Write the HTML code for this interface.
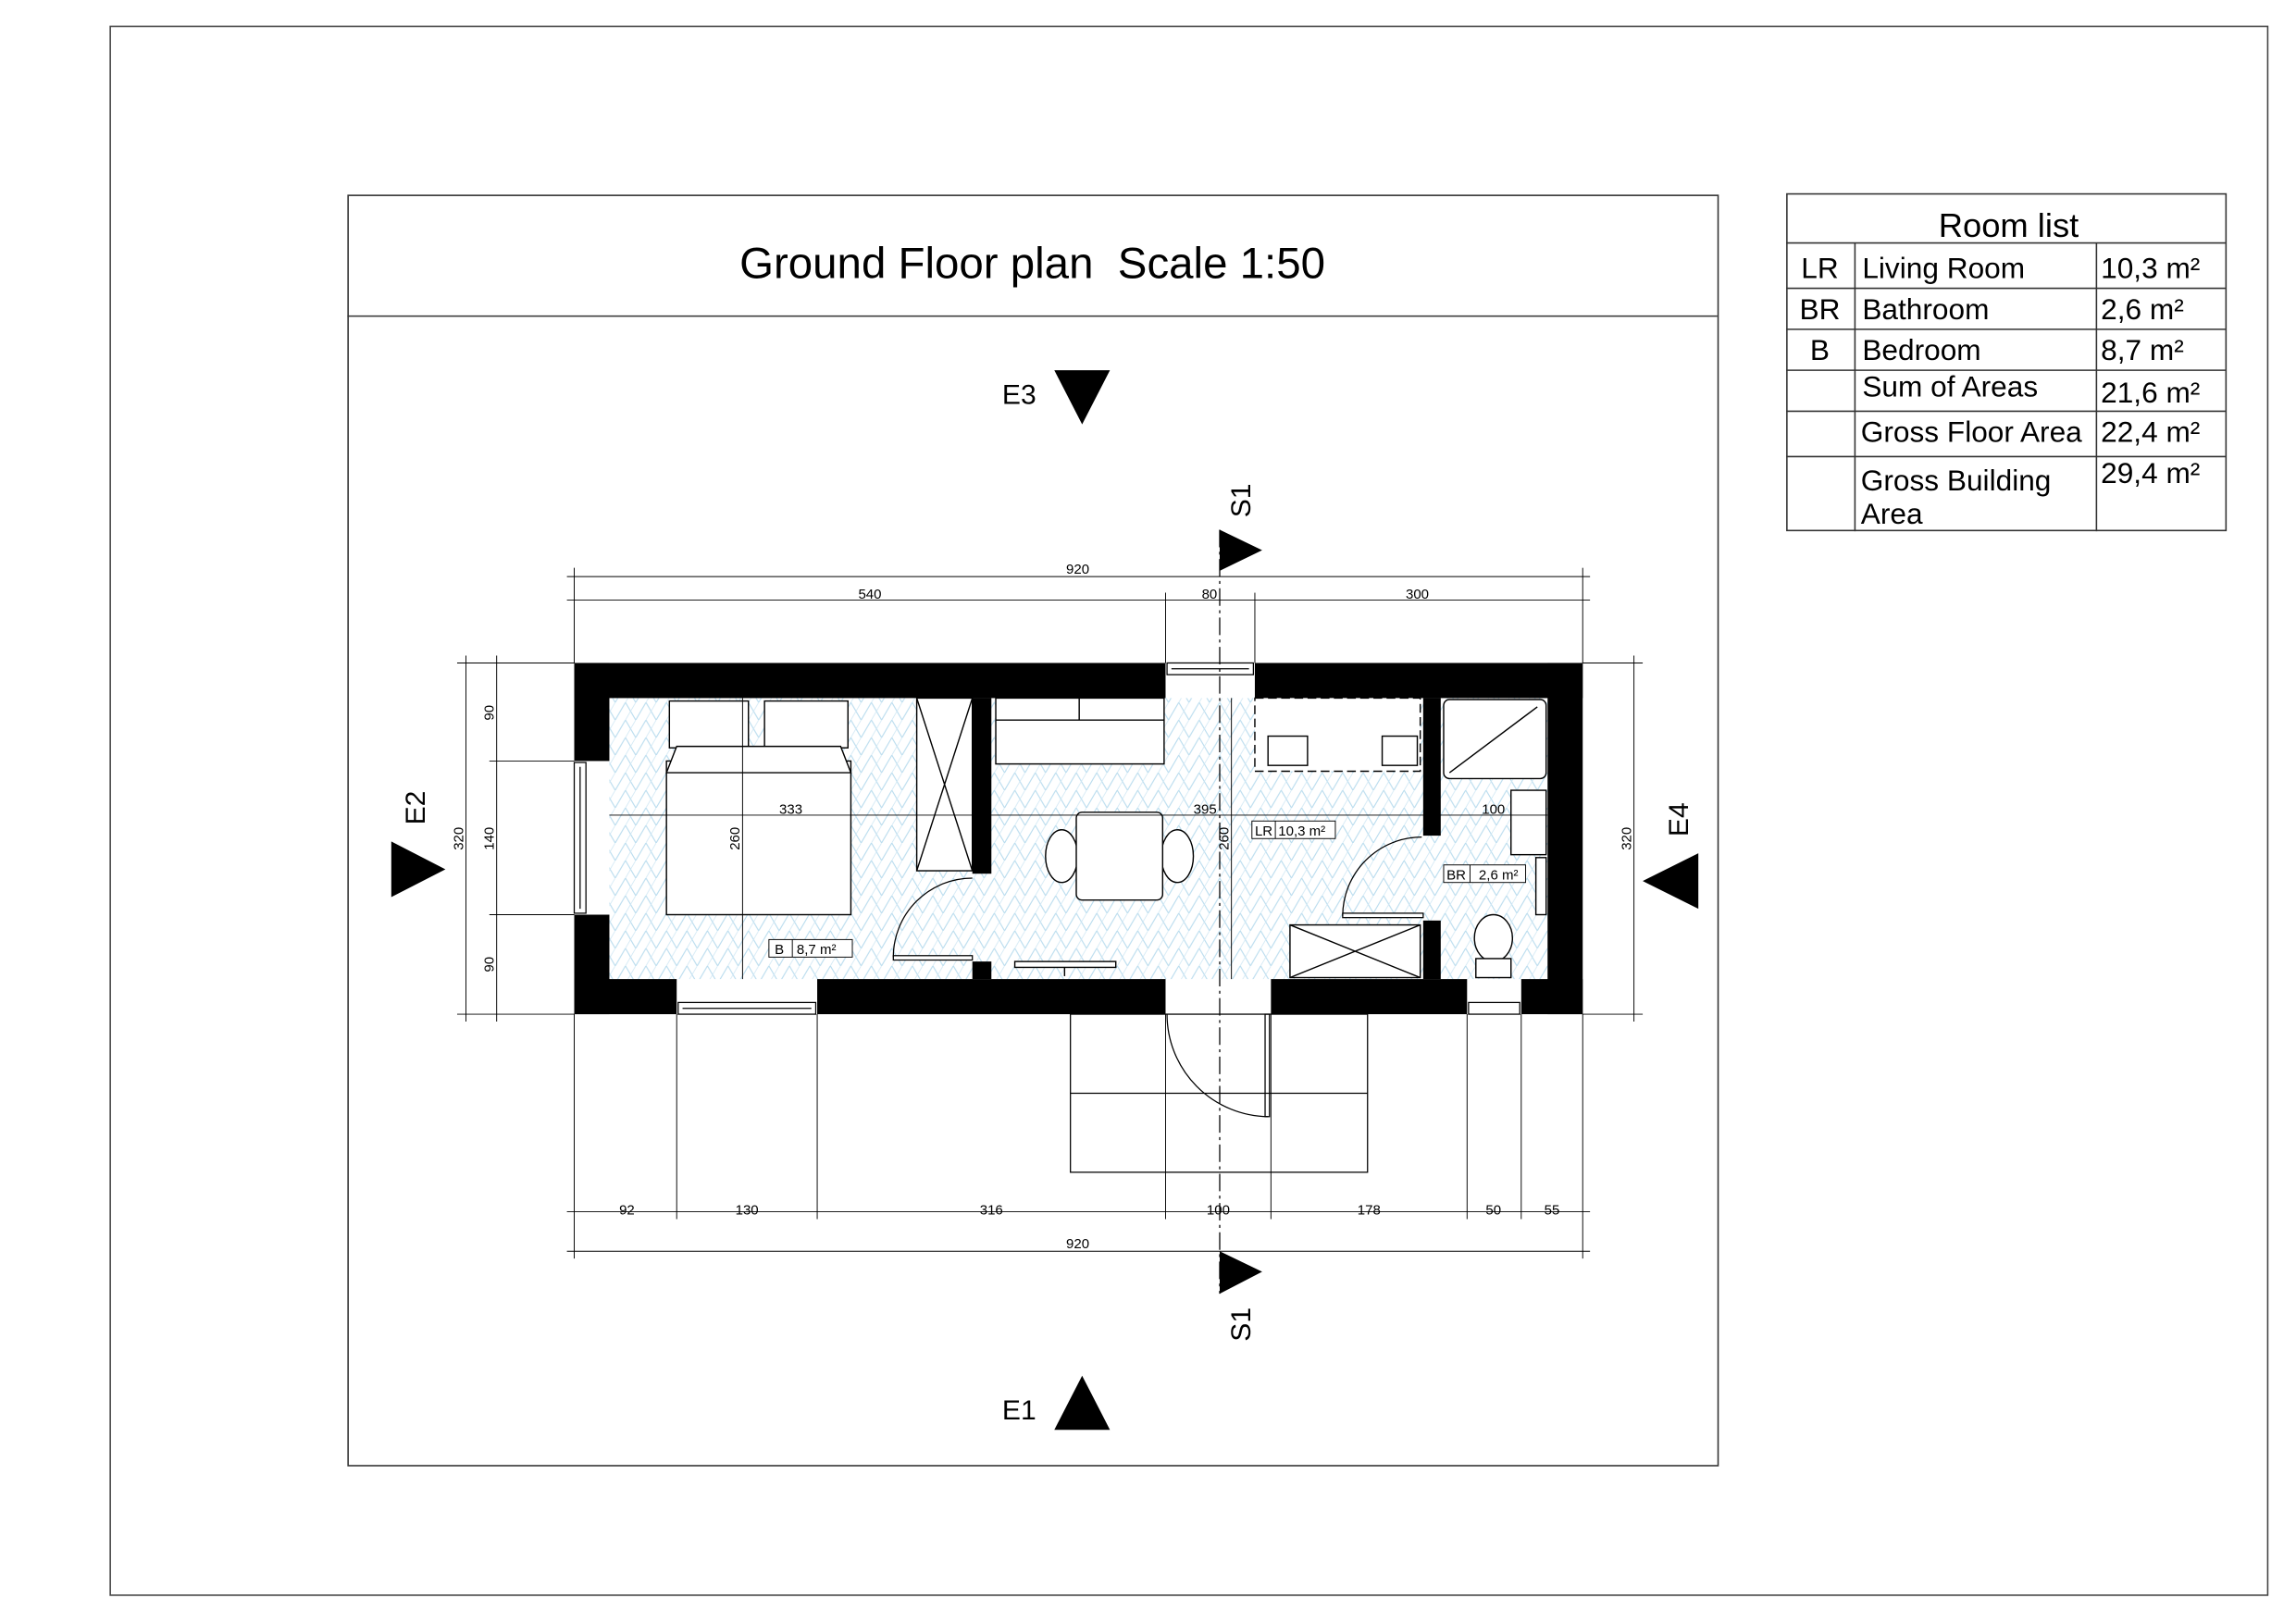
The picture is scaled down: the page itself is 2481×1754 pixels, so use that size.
<!DOCTYPE html>
<html><head><meta charset="utf-8"><style>
html,body{margin:0;padding:0;background:#fff}
svg{display:block}
text{font-family:"Liberation Sans",sans-serif;fill:#000}
.d{font-size:9.5px}
.t{font-size:20px}
</style></head><body>
<svg width="2481" height="1754" viewBox="0 0 1568 1109" xmlns="http://www.w3.org/2000/svg">
<defs>
<pattern id="hb" width="14" height="12" patternUnits="userSpaceOnUse">
<path d="M0 12 L7 0 L14 12" fill="none" stroke="#b9dcee" stroke-width="0.7"/>
<path d="M7 12 L14 0" fill="none" stroke="#cfe7f4" stroke-width="0.5"/>
</pattern>
</defs>
<rect x="0" y="0" width="1568" height="1109" fill="#fff"/>
<rect x="75" y="18" width="1474" height="1072" fill="none" stroke="#444" stroke-width="1"/>
<rect x="237.5" y="133.5" width="936" height="868" fill="none" stroke="#333" stroke-width="1"/>
<line x1="237" y1="216" x2="1173" y2="216" stroke="#333" stroke-width="1"/>
<text x="705" y="190" font-size="30" text-anchor="middle" xml:space="preserve">Ground Floor plan&#160; Scale 1:50</text>

<!-- Room list -->
<g stroke="#333" stroke-width="1" fill="none">
<rect x="1220.5" y="132.5" width="300" height="230"/>
<line x1="1220" y1="166" x2="1520" y2="166"/>
<line x1="1220" y1="197" x2="1520" y2="197"/>
<line x1="1220" y1="225" x2="1520" y2="225"/>
<line x1="1220" y1="253" x2="1520" y2="253"/>
<line x1="1220" y1="281" x2="1520" y2="281"/>
<line x1="1220" y1="312" x2="1520" y2="312"/>
<line x1="1267" y1="166" x2="1267" y2="363"/>
<line x1="1432" y1="166" x2="1432" y2="363"/>
</g>
<text x="1372" y="162" text-anchor="middle" style="font-size:23px">Room list</text>
<text x="1243" y="190" class="t" text-anchor="middle">LR</text>
<text x="1272" y="190" class="t">Living Room</text>
<text x="1435" y="190" class="t">10,3 m²</text>
<text x="1243" y="218" class="t" text-anchor="middle">BR</text>
<text x="1272" y="218" class="t">Bathroom</text>
<text x="1435" y="218" class="t">2,6 m²</text>
<text x="1243" y="246" class="t" text-anchor="middle">B</text>
<text x="1272" y="246" class="t">Bedroom</text>
<text x="1435" y="246" class="t">8,7 m²</text>
<text x="1272" y="271" class="t">Sum of Areas</text>
<text x="1435" y="275" class="t">21,6 m²</text>
<text x="1271" y="302" class="t">Gross Floor Area</text>
<text x="1435" y="302" class="t">22,4 m²</text>
<text x="1271" y="335" class="t">Gross Building</text>
<text x="1271" y="358" class="t">Area</text>
<text x="1435" y="330" class="t">29,4 m²</text>

<!-- floors -->
<rect x="416" y="477" width="641" height="192" fill="url(#hb)"/>

<!-- walls -->
<g fill="#000">
<rect x="392" y="453" width="404" height="24"/>
<rect x="857" y="453" width="224" height="24"/>
<rect x="392" y="669" width="70" height="24"/>
<rect x="558" y="669" width="238" height="24"/>
<rect x="868" y="669" width="134" height="24"/>
<rect x="1039" y="669" width="42" height="24"/>
<rect x="392" y="453" width="24" height="67"/>
<rect x="392" y="625" width="24" height="68"/>
<rect x="1057" y="453" width="24" height="240"/>
<rect x="664" y="477" width="13" height="120"/>
<rect x="664" y="657" width="13" height="12"/>
<rect x="972" y="477" width="12" height="94"/>
<rect x="972" y="629" width="12" height="40"/>
</g>
<!-- windows -->
<g fill="none" stroke="#000" stroke-width="0.8">
<rect x="797" y="453" width="59" height="8"/><line x1="800" y1="457" x2="853" y2="457"/>
<rect x="463" y="685" width="94" height="8"/><line x1="466" y1="689" x2="554" y2="689"/>
<rect x="1003" y="685" width="35" height="8"/>
<rect x="392" y="521" width="8" height="103"/><line x1="396" y1="524" x2="396" y2="621"/>
</g>

<!-- section line -->
<line x1="833" y1="362" x2="833" y2="884" stroke="#000" stroke-width="0.8" stroke-dasharray="12,3,2,3"/>

<g fill="#fff" stroke="#000" stroke-width="0.9">
<rect x="457" y="479" width="54" height="32"/>
<rect x="522" y="479" width="57" height="32"/>
<rect x="455" y="520" width="126" height="105"/>
<path d="M455 528 L462 510 L574 510 L581 528 Z"/>
<rect x="626" y="477" width="38" height="118"/>
<path d="M626 477 L664 595 M664 477 L626 595" fill="none"/>
<rect x="680" y="477" width="115" height="45"/>
<line x1="737" y1="477" x2="737" y2="492"/><line x1="680" y1="492" x2="795" y2="492"/>
<ellipse cx="725" cy="585" rx="11" ry="18"/>
<ellipse cx="804" cy="585" rx="11" ry="18"/>
<rect x="735" y="555" width="59" height="60" rx="4"/>
<rect x="693" y="657" width="69" height="4"/>
<line x1="727" y1="661" x2="727" y2="667"/>
<rect x="857" y="477" width="113" height="50" stroke-dasharray="6,3"/>
<rect x="866" y="503" width="27" height="20"/>
<rect x="944" y="503" width="24" height="20"/>
<rect x="881" y="632" width="89" height="36"/>
<path d="M881 632 L970 668 M970 632 L881 668" fill="none"/>
<rect x="986" y="478" width="70" height="54" rx="4"/>
<line x1="990" y1="528" x2="1050" y2="483"/>
<rect x="1032" y="540" width="24" height="44"/>
<ellipse cx="1020" cy="641" rx="13" ry="16"/>
<rect x="1008" y="655" width="24" height="13"/>
<rect x="1049" y="586" width="7" height="39"/>
</g>
<g fill="none" stroke="#000" stroke-width="0.8">
<rect x="610" y="653" width="54" height="3" fill="#fff"/>
<path d="M610 654 A54 54 0 0 1 664 600"/>
<rect x="917" y="624" width="55" height="3" fill="#fff"/>
<path d="M917 626 A54 54 0 0 1 971 572"/>
<rect x="864" y="693" width="3" height="70" fill="#fff"/>
<path d="M797 693 A70 70 0 0 0 866 763"/>
<rect x="731" y="693" width="203" height="108"/>
<line x1="731" y1="747" x2="934" y2="747"/>
</g>

<g fill="#fff" stroke="#000" stroke-width="0.6">
<rect x="525" y="642" width="57" height="12"/>
<rect x="855" y="561" width="57" height="12"/>
<rect x="986" y="591" width="56" height="12"/>
</g>
<text x="529" y="652" class="d">B</text><line x1="541" y1="642" x2="541" y2="654" stroke="#000" stroke-width="0.6"/>
<text x="544" y="652" class="d">8,7 m²</text>
<text x="857" y="571" class="d">LR</text><line x1="871" y1="561" x2="871" y2="573" stroke="#000" stroke-width="0.6"/>
<text x="873" y="571" class="d">10,3 m²</text>
<text x="988" y="601" class="d">BR</text><line x1="1004" y1="591" x2="1004" y2="603" stroke="#000" stroke-width="0.6"/>
<text x="1010" y="601" class="d">2,6 m²</text>

<g stroke="#000" stroke-width="0.6" fill="none">
<line x1="387" y1="394" x2="1086" y2="394"/>
<line x1="387" y1="410" x2="1086" y2="410"/>
<line x1="392" y1="388" x2="392" y2="453"/><line x1="1081" y1="388" x2="1081" y2="453"/>
<line x1="796" y1="405" x2="796" y2="453"/><line x1="857" y1="405" x2="857" y2="453"/>
<line x1="416" y1="557" x2="1057" y2="557"/>
<line x1="507" y1="477" x2="507" y2="669"/>
<line x1="841" y1="477" x2="841" y2="669"/>
<line x1="318" y1="448" x2="318" y2="698"/>
<line x1="339" y1="448" x2="339" y2="698"/>
<line x1="312" y1="453" x2="392" y2="453"/><line x1="312" y1="693" x2="392" y2="693"/>
<line x1="334" y1="520" x2="392" y2="520"/><line x1="334" y1="625" x2="392" y2="625"/>
<line x1="1116" y1="448" x2="1116" y2="698"/>
<line x1="1081" y1="453" x2="1122" y2="453"/><line x1="1081" y1="693" x2="1122" y2="693"/>
<line x1="387" y1="828" x2="1086" y2="828"/>
<line x1="387" y1="855" x2="1086" y2="855"/>
<line x1="392" y1="693" x2="392" y2="860"/><line x1="462" y1="693" x2="462" y2="833"/>
<line x1="558" y1="693" x2="558" y2="833"/><line x1="796" y1="693" x2="796" y2="833"/>
<line x1="868" y1="693" x2="868" y2="833"/><line x1="1002" y1="693" x2="1002" y2="833"/>
<line x1="1039" y1="693" x2="1039" y2="833"/><line x1="1081" y1="693" x2="1081" y2="860"/>
</g>
<text x="736" y="392" class="d" text-anchor="middle">920</text>
<text x="594" y="409" class="d" text-anchor="middle">540</text>
<text x="826" y="409" class="d" text-anchor="middle">80</text>
<text x="968" y="409" class="d" text-anchor="middle">300</text>
<text x="540" y="556" class="d" text-anchor="middle">333</text>
<text x="823" y="556" class="d" text-anchor="middle">395</text>
<text x="1020" y="556" class="d" text-anchor="middle">100</text>
<text x="428" y="830" class="d" text-anchor="middle">92</text>
<text x="510" y="830" class="d" text-anchor="middle">130</text>
<text x="677" y="830" class="d" text-anchor="middle">316</text>
<text x="832" y="830" class="d" text-anchor="middle">100</text>
<text x="935" y="830" class="d" text-anchor="middle">178</text>
<text x="1020" y="830" class="d" text-anchor="middle">50</text>
<text x="1060" y="830" class="d" text-anchor="middle">55</text>
<text x="736" y="853" class="d" text-anchor="middle">920</text>
<text transform="translate(505,573) rotate(-90)" class="d" text-anchor="middle">260</text>
<text transform="translate(839,573) rotate(-90)" class="d" text-anchor="middle">260</text>
<text transform="translate(316,573) rotate(-90)" class="d" text-anchor="middle">320</text>
<text transform="translate(337,487) rotate(-90)" class="d" text-anchor="middle">90</text>
<text transform="translate(337,573) rotate(-90)" class="d" text-anchor="middle">140</text>
<text transform="translate(337,659) rotate(-90)" class="d" text-anchor="middle">90</text>
<text transform="translate(1114,573) rotate(-90)" class="d" text-anchor="middle">320</text>

<g fill="#000">
<polygon points="720,253 758,253 739,290"/>
<polygon points="720,977 758,977 739,940"/>
<polygon points="267,575 267,613 304,594"/>
<polygon points="1160,583 1160,621 1122,602"/>
<polygon points="833,362 833,390 862,376"/>
<polygon points="833,855 833,884 862,869"/>
</g>
<text x="696" y="276" font-size="19" text-anchor="middle">E3</text>
<text x="696" y="970" font-size="19" text-anchor="middle">E1</text>
<text transform="translate(290,552) rotate(-90)" font-size="19" text-anchor="middle">E2</text>
<text transform="translate(1153,560) rotate(-90)" font-size="19" text-anchor="middle">E4</text>
<text transform="translate(854,342) rotate(-90)" font-size="19" text-anchor="middle">S1</text>
<text transform="translate(854,905) rotate(-90)" font-size="19" text-anchor="middle">S1</text>
</svg>
</body></html>
